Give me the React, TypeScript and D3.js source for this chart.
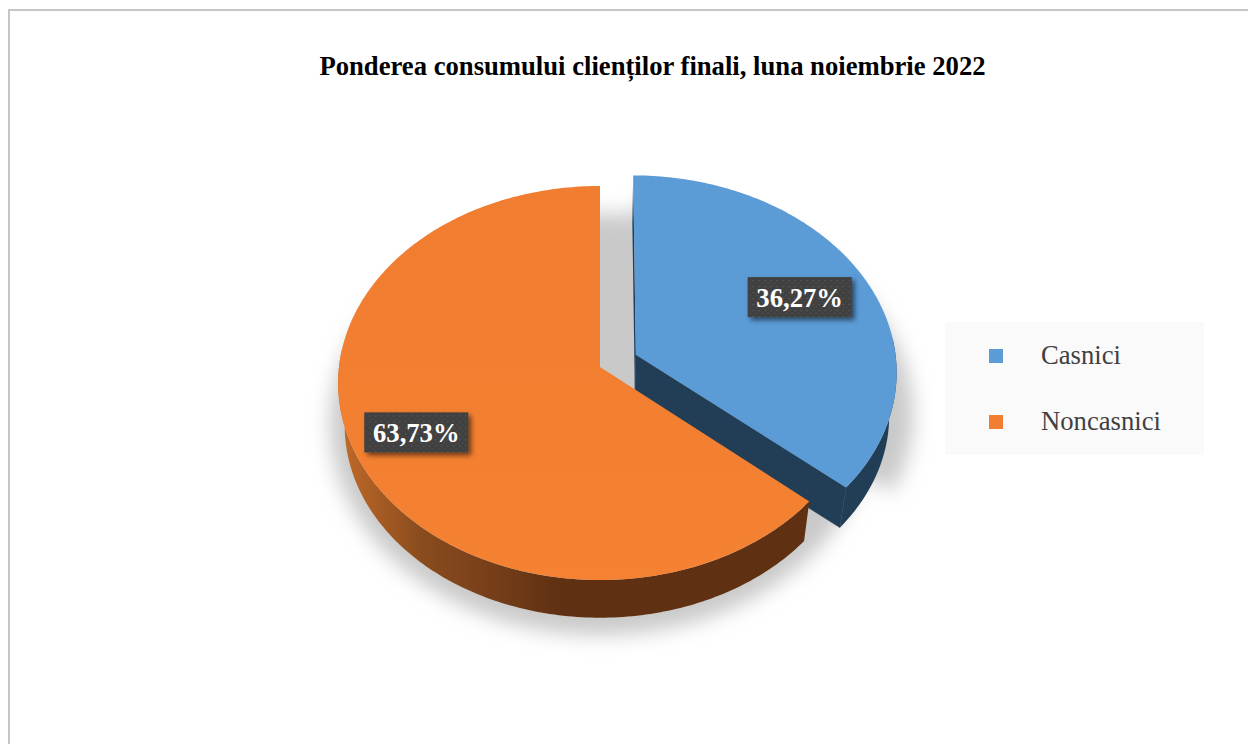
import React from "react";
import * as d3 from "d3";

const categories = ["Casnici", "Noncasnici"];
const shares = [36.27, 63.73];
const shareLabels = ["36,27%", "63,73%"];
const explodes = [0.152, 0];
const shadowExplodes = [0.2, 0];
const labelRadii = [0.715, 0.755];
const labelNudges = [-1, 2];
const faceColors = ["#5b9bd6", "#f27f31"];
const titleText = "Ponderea consumului clienților finali, luna noiembrie 2022";

const width = 1248;
const height = 744;

// tilted disc: the far side is squeezed a bit, the near side stretched
const pivot = { x: 600, y: 367 };
const radiusX = 261;
const radiusY = 195.7;

type Plane = { sx: number; sy: number; drop: number; tilt: number };
type Pt = [number, number];

const topPlane: Plane = { sx: 1, sy: 1, drop: 0, tilt: 0.0812 };
const basePlane: Plane = { sx: 0.975, sy: 0.975, drop: 43, tilt: 0.0812 };
// the shadow lies on a floor that is tilted harder than the pie
const shadowPlane: Plane = { sx: 0.987, sy: 0.98, drop: -6, tilt: 0.3 };

// the rim only shows on the front half of the disc
const rimFrom = (85 * Math.PI) / 180;
const rimTo = (275 * Math.PI) / 180;

const project = (u: number, v: number, plane: Plane): Pt => {
  const s = 1 / (1 - plane.tilt * v);
  return [
    pivot.x + radiusX * u * s * plane.sx,
    pivot.y + radiusY * v * s * plane.sy + plane.drop,
  ];
};

const slices = d3
  .pie<number>()
  .sort(null)
  .startAngle(0)
  .endAngle(2 * Math.PI)(shares);

const polygon = d3.line<Pt>().curve(d3.curveLinearClosed);

const offsetOf = (a0: number, a1: number, explode: number): Pt => {
  const mid = (a0 + a1) / 2;
  return [Math.sin(mid) * explode, -Math.cos(mid) * explode];
};

const arcPoints = (from: number, to: number, off: Pt, plane: Plane): Pt[] => {
  const n = Math.ceil((to - from) * 60);
  return d3
    .range(n + 1)
    .map((i) => from + ((to - from) * i) / n)
    .map((a) => project(off[0] + Math.sin(a), off[1] - Math.cos(a), plane));
};

const wedge = (a0: number, a1: number, explode: number, plane: Plane) => {
  const off = offsetOf(a0, a1, explode);
  return polygon([project(off[0], off[1], plane), ...arcPoints(a0, a1, off, plane)]) || "";
};

const wallPath = (a0: number, a1: number, explode: number) => {
  const off = offsetOf(a0, a1, explode);
  const from = Math.max(a0, rimFrom);
  const to = Math.min(a1, rimTo);
  return (
    polygon([
      ...arcPoints(from, to, off, topPlane),
      ...arcPoints(from, to, off, basePlane).reverse(),
    ]) || ""
  );
};

const cutPath = (angle: number, a0: number, a1: number, explode: number) => {
  const off = offsetOf(a0, a1, explode);
  const u = off[0] + Math.sin(angle);
  const v = off[1] - Math.cos(angle);
  return (
    polygon([
      project(off[0], off[1], topPlane),
      project(u, v, topPlane),
      project(u, v, basePlane),
      project(off[0], off[1], basePlane),
    ]) || ""
  );
};

const serif = "'Liberation Serif', 'Times New Roman', serif";

const DataLabel: React.FC<{ i: number }> = ({ i }) => {
  const d = slices[i];
  const mid = (d.startAngle + d.endAngle) / 2;
  const r = explodes[i] + labelRadii[i];
  const [x, y] = project(Math.sin(mid) * r, -Math.cos(mid) * r, topPlane);
  return (
    <g transform={`translate(${x},${y + labelNudges[i]})`}>
      <rect x={-52} y={-20} width={104} height={40} fill="#404040" filter="url(#labelShadow)" />
      <rect x={-52} y={-20} width={104} height={40} fill="url(#dots)" />
      <text
        y={9.5}
        textAnchor="middle"
        fontFamily={serif}
        fontWeight="bold"
        fontSize={26.67}
        fill="#ffffff"
      >
        {shareLabels[i]}
      </text>
    </g>
  );
};

export default function App() {
  const blue = slices[0];
  const orange = slices[1];
  return (
    <svg
      width={width}
      height={height}
      style={{ position: "absolute", left: 0, top: 0, display: "block", background: "#fff" }}
    >
      <defs>
        <filter id="soft" x="-20%" y="-20%" width="140%" height="140%">
          <feGaussianBlur stdDeviation={10} />
        </filter>
        <filter id="labelShadow" x="-20%" y="-30%" width="140%" height="170%">
          <feDropShadow dx={3} dy={3} stdDeviation={2.5} floodColor="#000" floodOpacity={0.55} />
        </filter>
        <pattern id="dots" width={6} height={6} patternUnits="userSpaceOnUse">
          <circle cx={1.5} cy={1.5} r={0.8} fill="#5c5c5c" />
          <circle cx={4.5} cy={4.5} r={0.8} fill="#4e4e4e" />
        </pattern>
        <linearGradient id="orangeWall" gradientUnits="userSpaceOnUse" x1={340} x2={600} y1={0} y2={0}>
          <stop offset="0" stopColor="#c06a28" />
          <stop offset="0.31" stopColor="#8a4c1e" />
          <stop offset="0.54" stopColor="#7a411a" />
          <stop offset="0.85" stopColor="#5f3012" />
          <stop offset="1" stopColor="#5f3012" />
        </linearGradient>
        <linearGradient id="orangeFace" gradientUnits="userSpaceOnUse" x1={0} x2={0} y1={186} y2={580}>
          <stop offset="0" stopColor="#f07d30" />
          <stop offset="1" stopColor="#f58132" />
        </linearGradient>
      </defs>

      <rect x={9} y={10} width={width} height={height} fill="none" stroke="#c6c6c6" strokeWidth={2} />

      <text
        x={652.5}
        y={75}
        textAnchor="middle"
        fontFamily={serif}
        fontWeight="bold"
        fontSize={26.67}
        fill="#000"
      >
        {titleText}
      </text>

      <g filter="url(#soft)" fill="#c9c9c9">
        <path d={wedge(0, 2 * Math.PI, 0, shadowPlane)} />
        <path d={wedge(blue.startAngle, blue.endAngle, shadowExplodes[0], shadowPlane)} />
      </g>

      <g fill="#223e57">
        <path d={cutPath(blue.startAngle, blue.startAngle, blue.endAngle, explodes[0])} />
        <path
          d={cutPath(blue.endAngle, blue.startAngle, blue.endAngle, explodes[0])}
          stroke="#223e57"
          strokeWidth={0.6}
        />
        <path d={wallPath(blue.startAngle, blue.endAngle, explodes[0])} />
      </g>
      <path d={wedge(blue.startAngle, blue.endAngle, explodes[0], topPlane)} fill={faceColors[0]} />

      <path d={cutPath(orange.endAngle, orange.startAngle, orange.endAngle, 0)} fill="#5f3012" />
      <path d={wallPath(orange.startAngle, orange.endAngle, 0)} fill="url(#orangeWall)" />
      <path d={wedge(orange.startAngle, orange.endAngle, 0, topPlane)} fill="url(#orangeFace)" />

      <DataLabel i={0} />
      <DataLabel i={1} />

      <rect x={945} y={322} width={259} height={133} fill="#fafafa" />
      {categories.map((c, i) => (
        <g key={c} transform={`translate(989,${349 + i * 66})`}>
          <rect width={14} height={14} fill={faceColors[i]} />
          <text x={52} y={15} fontFamily={serif} fontSize={26.67} fill="#404040">
            {c}
          </text>
        </g>
      ))}
    </svg>
  );
}
